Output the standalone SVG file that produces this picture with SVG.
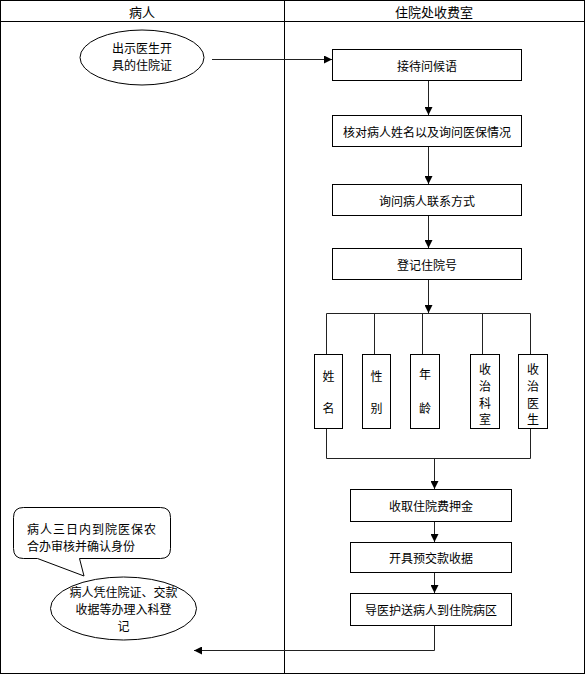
<svg xmlns="http://www.w3.org/2000/svg" width="585" height="674" viewBox="0 0 585 674">
<style>
text{font-family:"Noto Sans CJK SC","Liberation Sans",sans-serif;font-size:12px;fill:#000;text-anchor:middle;dominant-baseline:central}
.box{fill:#fff;stroke:#000;stroke-width:1}
.ln{fill:none;stroke:#222;stroke-width:1}
.hd{font-size:13px}
.lt{text-anchor:start}
</style>
<defs>
<marker id="ah" viewBox="0 0 10 10" refX="10" refY="5" markerWidth="8" markerHeight="8" markerUnits="userSpaceOnUse" orient="auto">
<path d="M0,0 L10,5 L0,10 z" fill="#000"/>
</marker>
</defs>
<g id="lanes">
<rect x="0.5" y="0.5" width="584" height="673" fill="#fff" stroke="#000"/>
<line x1="0" y1="21.5" x2="585" y2="21.5" stroke="#000"/>
<line x1="284.5" y1="0" x2="284.5" y2="674" stroke="#000"/>
<text class="hd" x="142" y="11">病人</text>
<text class="hd" x="434" y="11">住院处收费室</text>
</g>
<g id="connectors">
<line class="ln" x1="212" y1="59.5" x2="332" y2="59.5" marker-end="url(#ah)"/>
<line class="ln" x1="428.5" y1="80" x2="428.5" y2="115" marker-end="url(#ah)"/>
<line class="ln" x1="428.5" y1="146" x2="428.5" y2="184" marker-end="url(#ah)"/>
<line class="ln" x1="428.5" y1="215" x2="428.5" y2="248" marker-end="url(#ah)"/>
<line class="ln" x1="428.5" y1="279" x2="428.5" y2="313" marker-end="url(#ah)"/>
<polyline class="ln" points="326.5,354 326.5,313.5 530.5,313.5 530.5,354"/>
<line class="ln" x1="374.5" y1="313.5" x2="374.5" y2="354"/>
<line class="ln" x1="422.5" y1="313.5" x2="422.5" y2="354"/>
<line class="ln" x1="482.5" y1="313.5" x2="482.5" y2="354"/>
<polyline class="ln" points="326.5,428 326.5,458.5 530.5,458.5 530.5,428"/>
<line class="ln" x1="434.5" y1="458.5" x2="434.5" y2="489" marker-end="url(#ah)"/>
<line class="ln" x1="434.5" y1="521" x2="434.5" y2="542" marker-end="url(#ah)"/>
<line class="ln" x1="434.5" y1="572" x2="434.5" y2="593" marker-end="url(#ah)"/>
<polyline class="ln" points="434.5,625 434.5,650.5 194,650.5" marker-end="url(#ah)"/>
</g>
<g id="n_start">
<ellipse cx="142" cy="57.5" rx="62" ry="27.5" fill="#fff" stroke="#000"/>
<text x="142" y="47">出示医生开</text>
<text x="142" y="64">具的住院证</text>
</g>
<g id="n1"><rect class="box" x="332.5" y="49.5" width="189" height="31"/><text x="427" y="65">接待问候语</text></g>
<g id="n2"><rect class="box" x="332.5" y="115.5" width="189" height="31"/><text x="427" y="131">核对病人姓名以及询问医保情况</text></g>
<g id="n3"><rect class="box" x="332.5" y="184.5" width="189" height="31"/><text x="427" y="200">询问病人联系方式</text></g>
<g id="n4"><rect class="box" x="332.5" y="248.5" width="189" height="31"/><text x="427" y="264">登记住院号</text></g>
<g id="v1"><rect class="box" x="314.5" y="354.5" width="28" height="74"/><text x="328.5" y="375">姓</text><text x="328.5" y="407">名</text></g>
<g id="v2"><rect class="box" x="362.5" y="354.5" width="28" height="74"/><text x="376.5" y="375">性</text><text x="376.5" y="407">别</text></g>
<g id="v3"><rect class="box" x="410.5" y="354.5" width="29" height="74"/><text x="425" y="373">年</text><text x="425" y="407">龄</text></g>
<g id="v4"><rect class="box" x="470.5" y="354.5" width="29" height="74"/><text x="485" y="368">收</text><text x="485" y="385">治</text><text x="485" y="402">科</text><text x="485" y="418">室</text></g>
<g id="v5"><rect class="box" x="518.5" y="354.5" width="29" height="74"/><text x="533" y="368">收</text><text x="533" y="385">治</text><text x="533" y="402">医</text><text x="533" y="418">生</text></g>
<g id="n5"><rect class="box" x="350.5" y="489.5" width="161" height="32"/><text x="431" y="505">收取住院费押金</text></g>
<g id="n6"><rect class="box" x="350.5" y="542.5" width="161" height="30"/><text x="431" y="557">开具预交款收据</text></g>
<g id="n7"><rect class="box" x="350.5" y="593.5" width="161" height="32"/><text x="431" y="609">导医护送病人到住院病区</text></g>
<g id="n_end">
<ellipse cx="123.5" cy="608.5" rx="73" ry="31.5" fill="#fff" stroke="#000"/>
<text x="123.5" y="591">病人凭住院证、交款</text>
<text x="123.5" y="608">收据等办理入科登</text>
<text x="123.5" y="625">记</text>
</g>
<g id="callout">
<path d="M23.5,507.5 H160.5 Q170.5,507.5 170.5,517.5 V548.5 Q170.5,558.5 160.5,558.5 H79.5 L84,576 L37.5,558.5 H23.5 Q13.5,558.5 13.5,548.5 V517.5 Q13.5,507.5 23.5,507.5 Z" fill="#fff" stroke="#000"/>
<text class="lt" x="27" y="528" letter-spacing="1">病人三日内到院医保农</text>
<text class="lt" x="27" y="545">合办审核并确认身份</text>
</g>
</svg>
